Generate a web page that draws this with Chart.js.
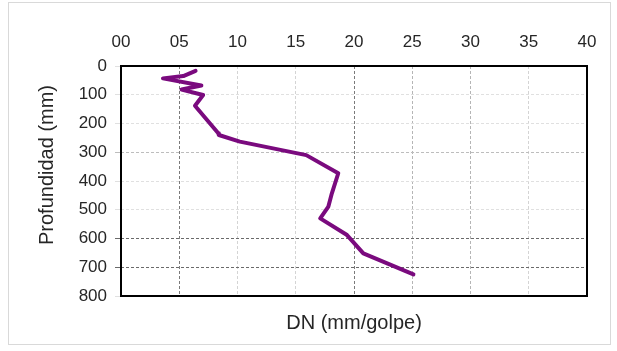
<!DOCTYPE html>
<html>
<head>
<meta charset="utf-8">
<title>DCP</title>
<script src="https://cdn.jsdelivr.net/npm/chart.js@4/dist/chart.umd.min.js"></script>
<style>
  html, body { margin: 0; padding: 0; background: #fff; }
  #wrap { position: relative; width: 617px; height: 351px; }
  #frame { position: absolute; left: 8px; top: 2px; width: 603px; height: 343px; border: 1px solid #d9d9d9; box-sizing: border-box; pointer-events: none; }
  canvas { position: absolute; left: 0; top: 0; }
</style>
</head>
<body>
<div id="wrap">
  <canvas id="c" width="617" height="351"></canvas>
  <div id="frame"></div>
</div>
<script>
// Penetration index (mm/blow) against depth (mm)
const dn = [6.4, 5.35, 3.6, 6.9, 5.2, 7.05, 6.35, 8.35, 8.4, 10.2, 15.9, 18.65, 18.1, 17.8, 17.1, 19.4, 20.8, 25.1];
const depth = [17, 35, 43, 68, 82, 101, 138, 234, 240, 263, 310, 373, 443, 489, 530, 588, 652, 725];

const xTicks = [0, 5, 10, 15, 20, 25, 30, 35, 40];
const yTicks = [0, 100, 200, 300, 400, 500, 600, 700, 800];

const xLabel = 'DN (mm/golpe)';
const yLabel = 'Profundidad (mm)';

const points = dn.map((v, i) => ({ x: v, y: depth[i] }));

const xGridColor = v => (v === 5 || v === 20) ? '#7a7a7a' : (v === 25 || v === 30) ? '#b5b5b5' : '#d4d4d4';
const yGridColor = v => (v === 600 || v === 700) ? '#6a6a6a' : (v === 300) ? '#bdbdbd' : '#e0e0e0';

const fontFamily = 'Liberation Sans, Arial, sans-serif';
const font = { family: fontFamily, size: 17 };

// Black frame round the plot area plus the vertical depth title
const plotBox = {
  id: 'plotBox',
  afterDraw(chart) {
    const { ctx, chartArea: a } = chart;
    ctx.save();
    ctx.strokeStyle = '#000';
    ctx.lineWidth = 2;
    ctx.strokeRect(a.left, a.top, a.right - a.left, a.bottom - a.top);
    ctx.translate(47, 165);
    ctx.rotate(-Math.PI / 2);
    ctx.fillStyle = '#262626';
    ctx.font = '20px ' + fontFamily;
    ctx.textAlign = 'center';
    ctx.textBaseline = 'middle';
    ctx.fillText(yLabel, 0, 0);
    ctx.restore();
  }
};

new Chart(document.getElementById('c'), {
  type: 'line',
  data: {
    datasets: [{
      data: points,
      borderColor: '#7a0a7e',
      borderWidth: 4,
      borderJoinStyle: 'round',
      borderCapStyle: 'round',
      pointRadius: 0,
      tension: 0,
      fill: false
    }]
  },
  options: {
    responsive: false,
    animation: false,
    parsing: false,
    plugins: { legend: { display: false }, tooltip: { enabled: false } },
    layout: { padding: { left: 0, right: 30, top: 0, bottom: 0 } },
    scales: {
      x: {
        type: 'linear',
        position: 'top',
        min: 0, max: 40,
        afterBuildTicks: s => { s.ticks = xTicks.map(v => ({ value: v })); },
        afterFit: s => { s.height = 66; },
        ticks: {
          color: '#262626',
          font: font,
          padding: 13,
          maxRotation: 0,
          callback: v => (v < 10 ? '0' + v : String(v))
        },
        grid: {
          drawTicks: false,
          color: c => xGridColor(c.tick ? c.tick.value : 0),
          lineWidth: 1
        },
        border: { display: false, dash: [3, 2] }
      },
      x2: {
        type: 'linear',
        position: 'bottom',
        min: 0, max: 40,
        afterFit: s => { s.height = 55; },
        ticks: { display: false },
        grid: { display: false },
        border: { display: false },
        title: {
          display: true,
          text: xLabel,
          color: '#262626',
          font: { family: fontFamily, size: 20 },
          padding: { top: 0, bottom: 16 }
        }
      },
      y: {
        type: 'linear',
        position: 'left',
        reverse: true,
        min: 0, max: 800,
        afterBuildTicks: s => { s.ticks = yTicks.map(v => ({ value: v })); },
        afterFit: s => { s.width = 121; },
        ticks: {
          color: '#262626',
          font: font,
          padding: 8
        },
        grid: {
          drawTicks: true,
          tickLength: 6,
          color: c => yGridColor(c.tick ? c.tick.value : 0),
          lineWidth: 1
        },
        border: { display: false, dash: [3, 2] }
      }
    }
  },
  plugins: [plotBox]
});
</script>
</body>
</html>
